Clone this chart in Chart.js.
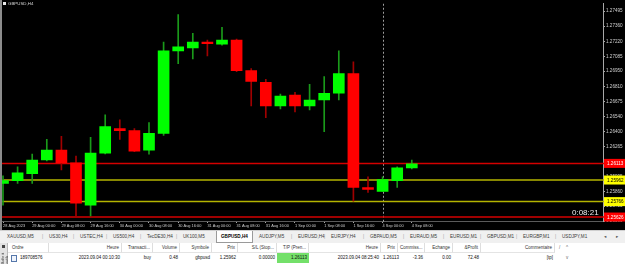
<!DOCTYPE html>
<html>
<head>
<meta charset="utf-8">
<script src="https://cdn.jsdelivr.net/npm/chart.js@4.4.0/dist/chart.umd.min.js"></script>
<style>
  html, body { margin:0; padding:0; width:625px; height:264px; overflow:hidden; background:#fff;
    font-family:"Liberation Sans", "DejaVu Sans", Arial, sans-serif; }
  #wrap { position:absolute; left:0; top:0; width:625px; height:230px; background:#000; }
  #chart { position:absolute; left:0; top:0; }
  #title { position:absolute; left:3px; top:1px; line-height:6px; font-size:4.4px; color:#d8d8d8; white-space:nowrap; }
  #title i { display:inline-block; width:3px; height:3px; background:#e8e8e8; margin-right:2px; vertical-align:middle; }
  #timer { position:absolute; left:572px; top:208px; font-size:8px; line-height:9px; color:#ececec; }
  #tabs { position:absolute; left:0; top:230px; width:625px; height:13px; background:#f0f0f0;
    border-top:1px solid #cfcfcf; box-sizing:border-box; font-size:4.6px; color:#3a3a3a; }
  #tabs span { position:absolute; top:3px; line-height:6px; white-space:nowrap; }
  #tabs .sep { color:#a0a0a0; }
  #tabs .active { top:0; height:11px; line-height:11px; background:#fff; border:1px solid #9a9a9a; border-top:none;
    padding:0 4px; color:#000; font-weight:bold; }
  #tabs .arr { font-family:"DejaVu Sans"; color:#555; }
  #grid { position:absolute; left:0; top:243px; width:625px; height:21px; background:#fff; font-size:4.5px; color:#333; }
  #grid .cell { position:absolute; height:10px; line-height:10px; white-space:nowrap; box-sizing:border-box; padding:0 2px; }
  #grid .hd { top:0; border-right:1px solid #dedede; border-bottom:1px solid #e4e4e4; }
  #grid .rw { top:10px; color:#111; }
  #strip { position:absolute; left:0; top:243px; width:7px; height:21px; background:#e2e2e2; border-right:1px solid #b8b8b8; }
  #strip i { position:absolute; left:2px; top:2px; width:3px; height:3px; background:#444; }
  #strip b { position:absolute; left:1px; top:8px; writing-mode:vertical-rl; transform:rotate(180deg); font-size:3.5px; font-weight:normal; color:#333; }
  #icon { position:absolute; left:11px; top:255px; width:4px; height:5px; border:1px solid #5577aa; background:#eef3fb; }
</style>
</head>
<body>
<div id="wrap">
  <canvas id="chart" width="625" height="230"></canvas>
  <div id="title"><i></i>GBPUSD,H4</div>
  <div id="timer">0:08:21</div>
</div>
<div id="tabs"></div>
<div id="grid"></div>
<div id="strip"><i></i><b>Boîte à outils</b></div>
<div id="icon"></div>

<script>
// ---- DATA ----
const timeLabels = ['28 Aug 2023', '29 Aug 00:00', '29 Aug 08:00', '29 Aug 16:00', '30 Aug 00:00',
  '30 Aug 08:00', '30 Aug 16:00', '31 Aug 00:00', '31 Aug 08:00', '31 Aug 16:00',
  '1 Sep 00:00', '1 Sep 08:00', '1 Sep 16:00', '4 Sep 00:00', '4 Sep 08:00'];

const opens  = [1.25930, 1.25956, 1.26019, 1.26144, 1.26233, 1.26117, 1.25733, 1.26206, 1.26429, 1.26411,
                1.26233, 1.26385, 1.27134, 1.27161, 1.27210, 1.27196, 1.27232, 1.26955, 1.26848, 1.26634,
                1.26732, 1.26634, 1.26688, 1.26750, 1.26929, 1.25894, 1.25858, 1.25956, 1.26072];
const highs  = [1.26001, 1.26081, 1.26197, 1.26331, 1.26358, 1.26179, 1.26349, 1.26554, 1.26509, 1.26429,
                1.26483, 1.27214, 1.27464, 1.27294, 1.27232, 1.27348, 1.27241, 1.26973, 1.26875, 1.26741,
                1.26759, 1.26831, 1.26902, 1.27134, 1.27036, 1.25992, 1.25992, 1.26081, 1.26144];
const lows   = [1.25733, 1.25930, 1.25930, 1.26135, 1.26054, 1.25626, 1.25635, 1.26200, 1.26331, 1.26220,
                1.26197, 1.26367, 1.27018, 1.27062, 1.27089, 1.27187, 1.26946, 1.26634, 1.26527, 1.26608,
                1.26581, 1.26599, 1.26402, 1.26688, 1.25769, 1.25849, 1.25858, 1.25894, 1.26063];
const closes = [1.25956, 1.26028, 1.26144, 1.26233, 1.26117, 1.25751, 1.26206, 1.26447, 1.26411, 1.26224,
                1.26385, 1.27134, 1.27170, 1.27214, 1.27200, 1.27232, 1.26955, 1.26857, 1.26634, 1.26724,
                1.26634, 1.26688, 1.26750, 1.26929, 1.25894, 1.25876, 1.25965, 1.26072, 1.26108];

const priceTicks = [1.27495, 1.27360, 1.27220, 1.27085, 1.26950, 1.26810, 1.26675, 1.26540,
                    1.26400, 1.26265, 1.25995, 1.25860, 1.25725, 1.25590];

const levelPrices = [1.26113, 1.25962, 1.25766, 1.25626];
const levelKinds  = ['red', 'yellow', 'yellow', 'red'];
const orderCandle = 26;   // 4 Sep 00:00, position opened

const tabNames = ['XAUUSD,M5', 'US30,H4', 'USTEC,H4', 'US500,H4', 'TecDE30,H4', 'UK100,M5', 'GBPUSD,H4',
  'AUDJPY,M5', 'EURUSD,H4', 'EURJPY,H4', 'GBPAUD,M5', 'EURAUD,M5', 'EURUSD,M1', 'GBPUSD,M1', 'EURGBP,M1', 'USDJPY,M1'];
const activeTab = 6;

const colHeads  = ['Ordre', 'Heure', 'Transacti...', 'Volume', 'Symbole', 'Prix', 'S/L (Stop...', 'T/P (Pren...',
                   'Heure', 'Prix', 'Commiss...', 'Echange', '&Profit', 'Commentaire'];
const rowValues = ['189708576', '2023.09.04 00:10:30', 'buy', '0.48', 'gbpusd', '1.25962', '0.00000', '1.26113',
                   '2023.09.04 08:25:40', '1.26113', '-3.36', '0.00', '72.48', '[tp]'];

// ---- LAYOUT ----
const tabX = [7, 49, 80, 113, 147, 183, 220, 259, 298, 331, 370, 410, 450, 487, 523, 562];
const colEdges = [8, 49, 122, 153, 180, 212, 238, 277, 309, 381, 398, 425, 453, 481, 555];
const FONT = '"Liberation Sans", Arial, sans-serif';
const C = {
  up: '#00ff00', down: '#ff0000', upWick: '#1a9a1a', downWick: '#a00000',
  red: '#d40000', yellow: '#b4b400', redBox: '#ff0000', yellowBox: '#ffff00',
  axis: '#a8a8a8', text: '#cfcfcf'
};

// ---- CHART ----
const isUp = i => closes[i] >= opens[i];

const mtPlugin = {
  id: 'mt',
  beforeDraw(chart) {
    const c = chart.ctx;
    c.save();
    c.fillStyle = '#000';
    c.fillRect(0, 0, chart.width, chart.height);
    c.fillStyle = '#8c8c8c';
    c.fillRect(0, 0, 2, chart.height);
    c.restore();
  },
  beforeDatasetsDraw(chart) {
    const { ctx: c, chartArea: a, scales: { x, y } } = chart;
    c.save();
    const vx = Math.round(x.getPixelForValue(orderCandle)) + 0.5;
    c.strokeStyle = '#9c9c9c';
    c.lineWidth = 1;
    c.setLineDash([2, 2]);
    c.beginPath(); c.moveTo(vx, a.top); c.lineTo(vx, a.bottom + 3); c.stroke();
    c.setLineDash([]);
    levelPrices.forEach((p, i) => {
      const py = y.getPixelForValue(p);
      c.strokeStyle = C[levelKinds[i]];
      c.lineWidth = 1.5;
      c.beginPath(); c.moveTo(a.left, py); c.lineTo(chart.width, py); c.stroke();
    });
    c.restore();
  },
  afterDraw(chart) {
    const { ctx: c, chartArea: a, scales: { y } } = chart;
    c.save();
    c.font = '4.6px ' + FONT;
    c.textBaseline = 'middle';
    levelPrices.forEach((p, i) => {
      const py = y.getPixelForValue(p);
      const red = levelKinds[i] === 'red';
      c.fillStyle = red ? C.redBox : C.yellowBox;
      c.fillRect(a.right + 1, py - 4.5, chart.width - a.right - 1, 9);
      c.fillStyle = red ? '#ffffff' : '#000000';
      c.fillText(p.toFixed(5), a.right + 4, py + 0.5);
    });
    c.restore();
  }
};

const ctx = document.getElementById('chart').getContext('2d');
const chart = new Chart(ctx, {
  type: 'bar',
  data: {
    datasets: [
      {
        label: 'body',
        data: opens.map((o, i) => ({ x: i, y: [o, closes[i]] })),
        backgroundColor: c => isUp(c.dataIndex) ? C.up : C.down,
        borderWidth: 0,
        barThickness: 11,
        minBarLength: 1.5,
        grouped: false,
        order: 0
      },
      {
        label: 'wick',
        data: lows.map((l, i) => ({ x: i, y: [l, highs[i]] })),
        backgroundColor: c => isUp(c.dataIndex) ? C.upWick : C.downWick,
        borderWidth: 0,
        barThickness: 1,
        grouped: false,
        order: 1
      }
    ]
  },
  options: {
    animation: false,
    responsive: false,
    maintainAspectRatio: false,
    layout: { padding: { left: 2, top: 0, right: 0, bottom: 0 } },
    plugins: { legend: { display: false }, tooltip: { enabled: false } },
    scales: {
      x: {
        type: 'linear',
        min: -0.0685,
        max: 41.096,
        offset: false,
        afterBuildTicks: s => { s.ticks = timeLabels.map((_, k) => ({ value: k * 2 })); },
        afterFit: s => { s.height = 9; },
        grid: { display: true, offset: false, drawOnChartArea: false, drawTicks: true, tickLength: 2, color: C.axis },
        border: { display: true, color: '#5a5a5a' },
        ticks: {
          color: C.text, font: { size: 3.9, family: FONT }, align: 'start', maxRotation: 0,
          autoSkip: false, padding: 1, callback: (v, i) => timeLabels[i]
        }
      },
      y: {
        position: 'right',
        min: 1.25590,
        max: 1.27562,
        beginAtZero: false,
        afterBuildTicks: s => { s.ticks = priceTicks.map(v => ({ value: v })); },
        afterFit: s => { s.width = 22; },
        grid: { display: true, drawOnChartArea: false, drawTicks: true, tickLength: 2, color: C.axis },
        border: { display: true, color: C.axis },
        ticks: { color: C.text, font: { size: 4.6, family: FONT }, padding: 1, autoSkip: false,
                 callback: v => Number(v).toFixed(5) }
      }
    }
  },
  plugins: [mtPlugin]
});

// ---- TERMINAL (tabs + trade grid) ----
const tabs = document.getElementById('tabs');
tabNames.forEach((name, i) => {
  const s = document.createElement('span');
  s.textContent = name;
  if (i === activeTab) { s.className = 'active'; s.style.left = (tabX[i] - 4) + 'px'; }
  else s.style.left = tabX[i] + 'px';
  tabs.appendChild(s);
  if (i > 0 && i !== activeTab && i !== activeTab + 1) {
    const sep = document.createElement('span');
    sep.className = 'sep'; sep.textContent = '|';
    sep.style.left = (tabX[i] - 7) + 'px';
    tabs.appendChild(sep);
  }
});
[['◂', 604], ['▸', 616]].forEach(([t, x]) => {
  const s = document.createElement('span');
  s.className = 'arr'; s.textContent = t; s.style.left = x + 'px';
  tabs.appendChild(s);
});

const grid = document.getElementById('grid');
colHeads.forEach((h, i) => {
  const l = colEdges[i], r = colEdges[i + 1];
  const align = i === 0 ? 'left' : 'right';
  const hd = document.createElement('div');
  hd.className = 'cell hd';
  hd.style.left = l + 'px'; hd.style.width = (r - l) + 'px'; hd.style.textAlign = align;
  hd.textContent = h;
  if (i === 0) hd.style.paddingLeft = '4px';
  grid.appendChild(hd);
  const rw = document.createElement('div');
  rw.className = 'cell rw';
  rw.style.left = l + 'px'; rw.style.width = (r - l) + 'px'; rw.style.textAlign = align;
  rw.textContent = rowValues[i];
  if (i === 0) rw.style.paddingLeft = '12px';
  if (i === 7) rw.style.background = '#74e06a';
  grid.appendChild(rw);
});
[['/', 557, 0], ['^', 564, 0], ['v', 564, 10]].forEach(([t, x, y]) => {
  const s = document.createElement('div');
  s.className = 'cell'; s.style.top = y + 'px'; s.style.left = x + 'px'; s.style.color = '#666';
  s.textContent = t;
  grid.appendChild(s);
});
</script>
</body>
</html>
